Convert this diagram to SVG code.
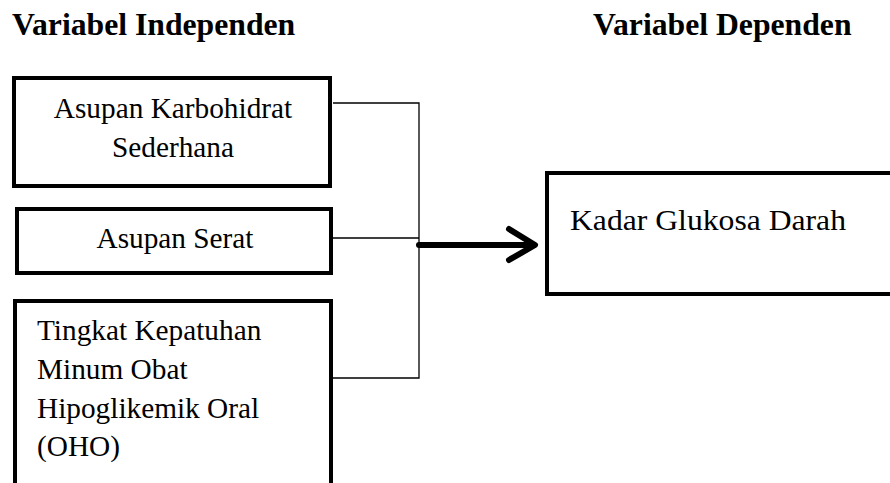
<svg xmlns="http://www.w3.org/2000/svg" width="890" height="483" viewBox="0 0 890 483">
<style>
.box{fill:#fff;stroke:#000;stroke-width:4}
.t{font-family:"Liberation Serif","Times New Roman",serif;font-size:29.3px;fill:#000}
.h{font-family:"Liberation Serif","Times New Roman",serif;font-size:31.7px;font-weight:bold;fill:#000}
.c{fill:none;stroke:#000;stroke-width:1.3}
.a{fill:none;stroke:#000;stroke-width:6;stroke-linecap:round;stroke-linejoin:round}
</style>
<rect width="890" height="483" fill="#fff"/>
<text class="h" x="12" y="35">Variabel Independen</text>
<text class="h" x="593" y="35">Variabel Dependen</text>
<g id="connectors">
<path class="c" d="M333 103H419V378H333M333 238H419"/>
<path class="a" d="M419 245H534M509 229L535 245L509 260"/>
</g>
<g id="n1">
<rect class="box" x="14" y="78" width="316" height="108"/>
<text class="t" x="173" y="117.5" text-anchor="middle">Asupan Karbohidrat</text>
<text class="t" x="173" y="157" text-anchor="middle">Sederhana</text>
</g>
<g id="n2">
<rect class="box" x="17" y="209" width="314" height="64"/>
<text class="t" x="175" y="248" text-anchor="middle">Asupan Serat</text>
</g>
<g id="n3">
<rect class="box" x="15" y="301" width="316" height="200"/>
<text class="t" x="37" y="340">Tingkat Kepatuhan</text>
<text class="t" x="37" y="379">Minum Obat</text>
<text class="t" x="37" y="417.5">Hipoglikemik Oral</text>
<text class="t" x="37" y="456">(OHO)</text>
</g>
<g id="n4">
<rect class="box" x="547" y="173" width="360" height="121"/>
<text class="t" x="570" y="230" textLength="276" lengthAdjust="spacingAndGlyphs">Kadar Glukosa Darah</text>
</g>
</svg>
